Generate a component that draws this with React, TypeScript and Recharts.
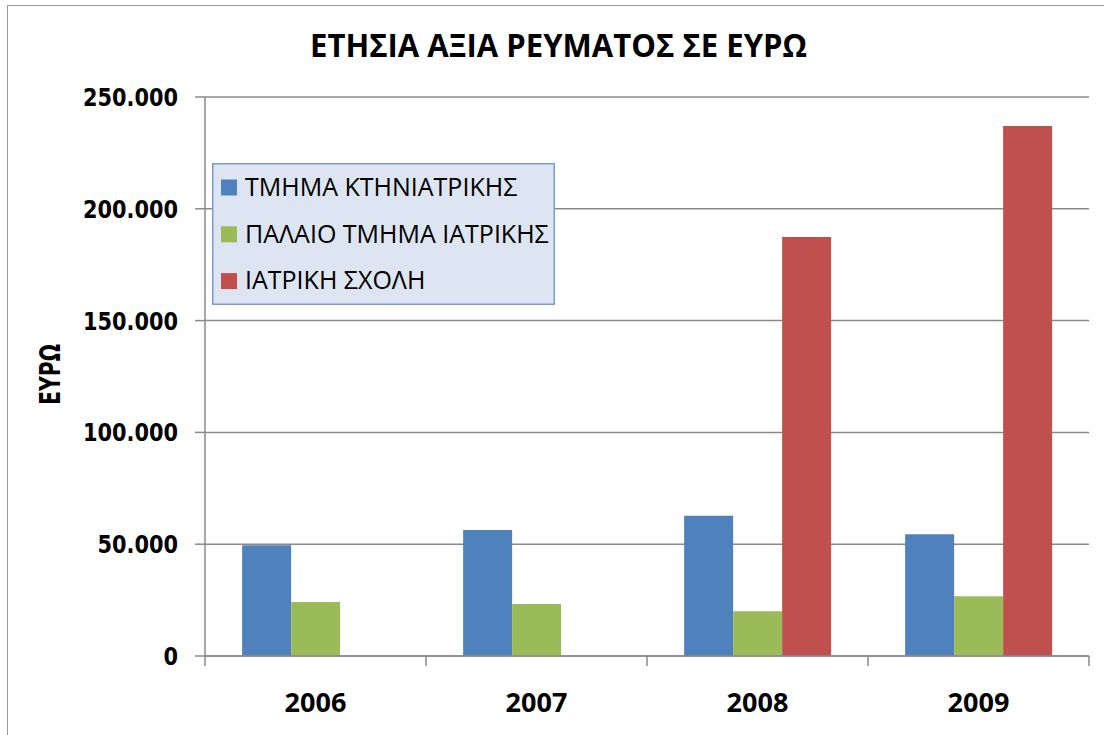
import React from 'react';
import { BarChart, Bar, XAxis, YAxis, CartesianGrid, Legend } from 'recharts';

const years = ['2006', '2007', '2008', '2009'];
const vetValues = [49500, 56400, 62700, 54400];
const oldMedValues = [24200, 23300, 20000, 26700];
const medSchoolValues: (number | null)[] = [null, null, 187400, 237000];
const yTicks = [0, 50000, 100000, 150000, 200000, 250000];

const seriesNames = ['ΤΜΗΜΑ ΚΤΗΝΙΑΤΡΙΚΗΣ', 'ΠΑΛΑΙΟ ΤΜΗΜΑ ΙΑΤΡΙΚΗΣ', 'ΙΑΤΡΙΚΗ ΣΧΟΛΗ'];
const seriesColors = ['#4F81BD', '#9BBB59', '#C0504D'];

const titleText = 'ΕΤΗΣΙΑ ΑΞΙΑ ΡΕΥΜΑΤΟΣ ΣΕ ΕΥΡΩ';
const yAxisTitle = 'ΕΥΡΩ';

const data = years.map((y, i) => ({
  year: y,
  vet: vetValues[i],
  oldMed: oldMedValues[i],
  medSchool: medSchoolValues[i],
}));

const fmt = (v: number) => v.toString().replace(/\B(?=(\d{3})+(?!\d))/g, '.');

const GRID = '#8a8a8a';

const YTick = (props: any) => {
  const { x, y, payload } = props;
  return (
    <text
      transform={`translate(${x},${y + 9}) scale(0.87,1)`}
      textAnchor="end"
      fontFamily="DejaVu Sans"
      fontWeight="bold"
      fontSize={24}
      fill="#000"
    >
      {fmt(payload.value)}
    </text>
  );
};

const XTick = (props: any) => {
  const { x, y, payload, index, visibleTicksCount } = props;
  const off = payload && typeof payload.offset === 'number' ? payload.offset : 0;
  const isLast = index === (visibleTicksCount ?? years.length) - 1;
  return (
    <g>
      <line x1={x - off} x2={x - off} y1={y} y2={y + 10} stroke={GRID} strokeWidth={1.5} />
      {isLast && <line x1={x + off} x2={x + off} y1={y} y2={y + 10} stroke={GRID} strokeWidth={1.5} />}
      <text
        x={x}
        y={y + 56}
        textAnchor="middle"
        fontFamily="Open Sans"
        fontWeight="bold"
        fontSize={27}
        fill="#000"
      >
        {payload.value}
      </text>
    </g>
  );
};

const renderLegend = (props: any) => {
  const payload = [...(props.payload || [])].sort(
    (a: any, b: any) => seriesNames.indexOf(a.value) - seriesNames.indexOf(b.value)
  );
  return (
    <svg width={343} height={142} style={{ display: 'block' }}>
      <rect x={0.75} y={0.75} width={341.5} height={140.5} fill="#DDE5F2" stroke="#7C9BCF" strokeWidth={1.5} />
      {payload.map((p: any, i: number) => (
        <g key={i}>
          <rect x={9} y={16.5 + i * 46.8} width={16} height={16} fill={p.color} />
          <text
            x={33}
            y={32.7 + i * 46.8}
            fontFamily="Open Sans"
            fontSize={25}
            fill="#000"
          >
            {p.value}
          </text>
        </g>
      ))}
    </svg>
  );
};

export default function App() {
  return (
    <div style={{ position: 'absolute', left: 0, top: 0, width: 1104, height: 735, overflow: 'hidden', background: '#fff' }}>
      <div
        style={{
          position: 'absolute',
          left: 7,
          top: 5,
          width: 1097,
          height: 730,
          borderTop: '1.5px solid #999',
          borderLeft: '1.5px solid #999',
          boxSizing: 'border-box',
        }}
      />
      <div style={{ position: 'absolute', left: 0, top: 0 }}>
        <BarChart
          width={1104}
          height={735}
          data={data}
          margin={{ top: 97, right: 15, bottom: 19, left: 105 }}
          barCategoryGap="16.8%"
          barGap={0}
        >
          <CartesianGrid vertical={false} stroke={GRID} strokeWidth={1.5} />
          <XAxis
            dataKey="year"
            height={60}
            tickSize={0}
            tickMargin={0}
            tickLine={false}
            axisLine={{ stroke: GRID, strokeWidth: 1.5 }}
            tick={<XTick />}
            interval={0}
          />
          <YAxis
            width={100}
            domain={[0, 250000]}
            ticks={yTicks}
            tickSize={10}
            tickMargin={17}
            tickLine={{ stroke: GRID, strokeWidth: 1.5 }}
            axisLine={{ stroke: GRID, strokeWidth: 1.5 }}
            tick={<YTick />}
            interval={0}
          />
          <Legend
            layout="vertical"
            align="center"
            verticalAlign="middle"
            content={renderLegend}
            wrapperStyle={{ position: 'absolute', left: 212, top: 163, width: 343, height: 142, margin: 0 }}
          />
          <Bar dataKey="vet" name={seriesNames[0]} fill={seriesColors[0]} isAnimationActive={false} />
          <Bar dataKey="oldMed" name={seriesNames[1]} fill={seriesColors[1]} isAnimationActive={false} />
          <Bar dataKey="medSchool" name={seriesNames[2]} fill={seriesColors[2]} isAnimationActive={false} />
        </BarChart>
      </div>
      <svg width={1104} height={735} style={{ position: 'absolute', left: 0, top: 0, pointerEvents: 'none' }}>
        <text
          x={558.5}
          y={57}
          textAnchor="middle"
          fontFamily="Open Sans"
          fontWeight="bold"
          fontSize={32}
          textLength={497}
          lengthAdjust="spacingAndGlyphs"
          fill="#000"
        >
          {titleText}
        </text>
        <text
          transform="translate(60,374.5) rotate(-90)"
          textAnchor="middle"
          fontFamily="DejaVu Sans"
          fontWeight="bold"
          fontSize={28}
          textLength={61}
          lengthAdjust="spacingAndGlyphs"
          fill="#000"
        >
          {yAxisTitle}
        </text>
      </svg>
    </div>
  );
}
